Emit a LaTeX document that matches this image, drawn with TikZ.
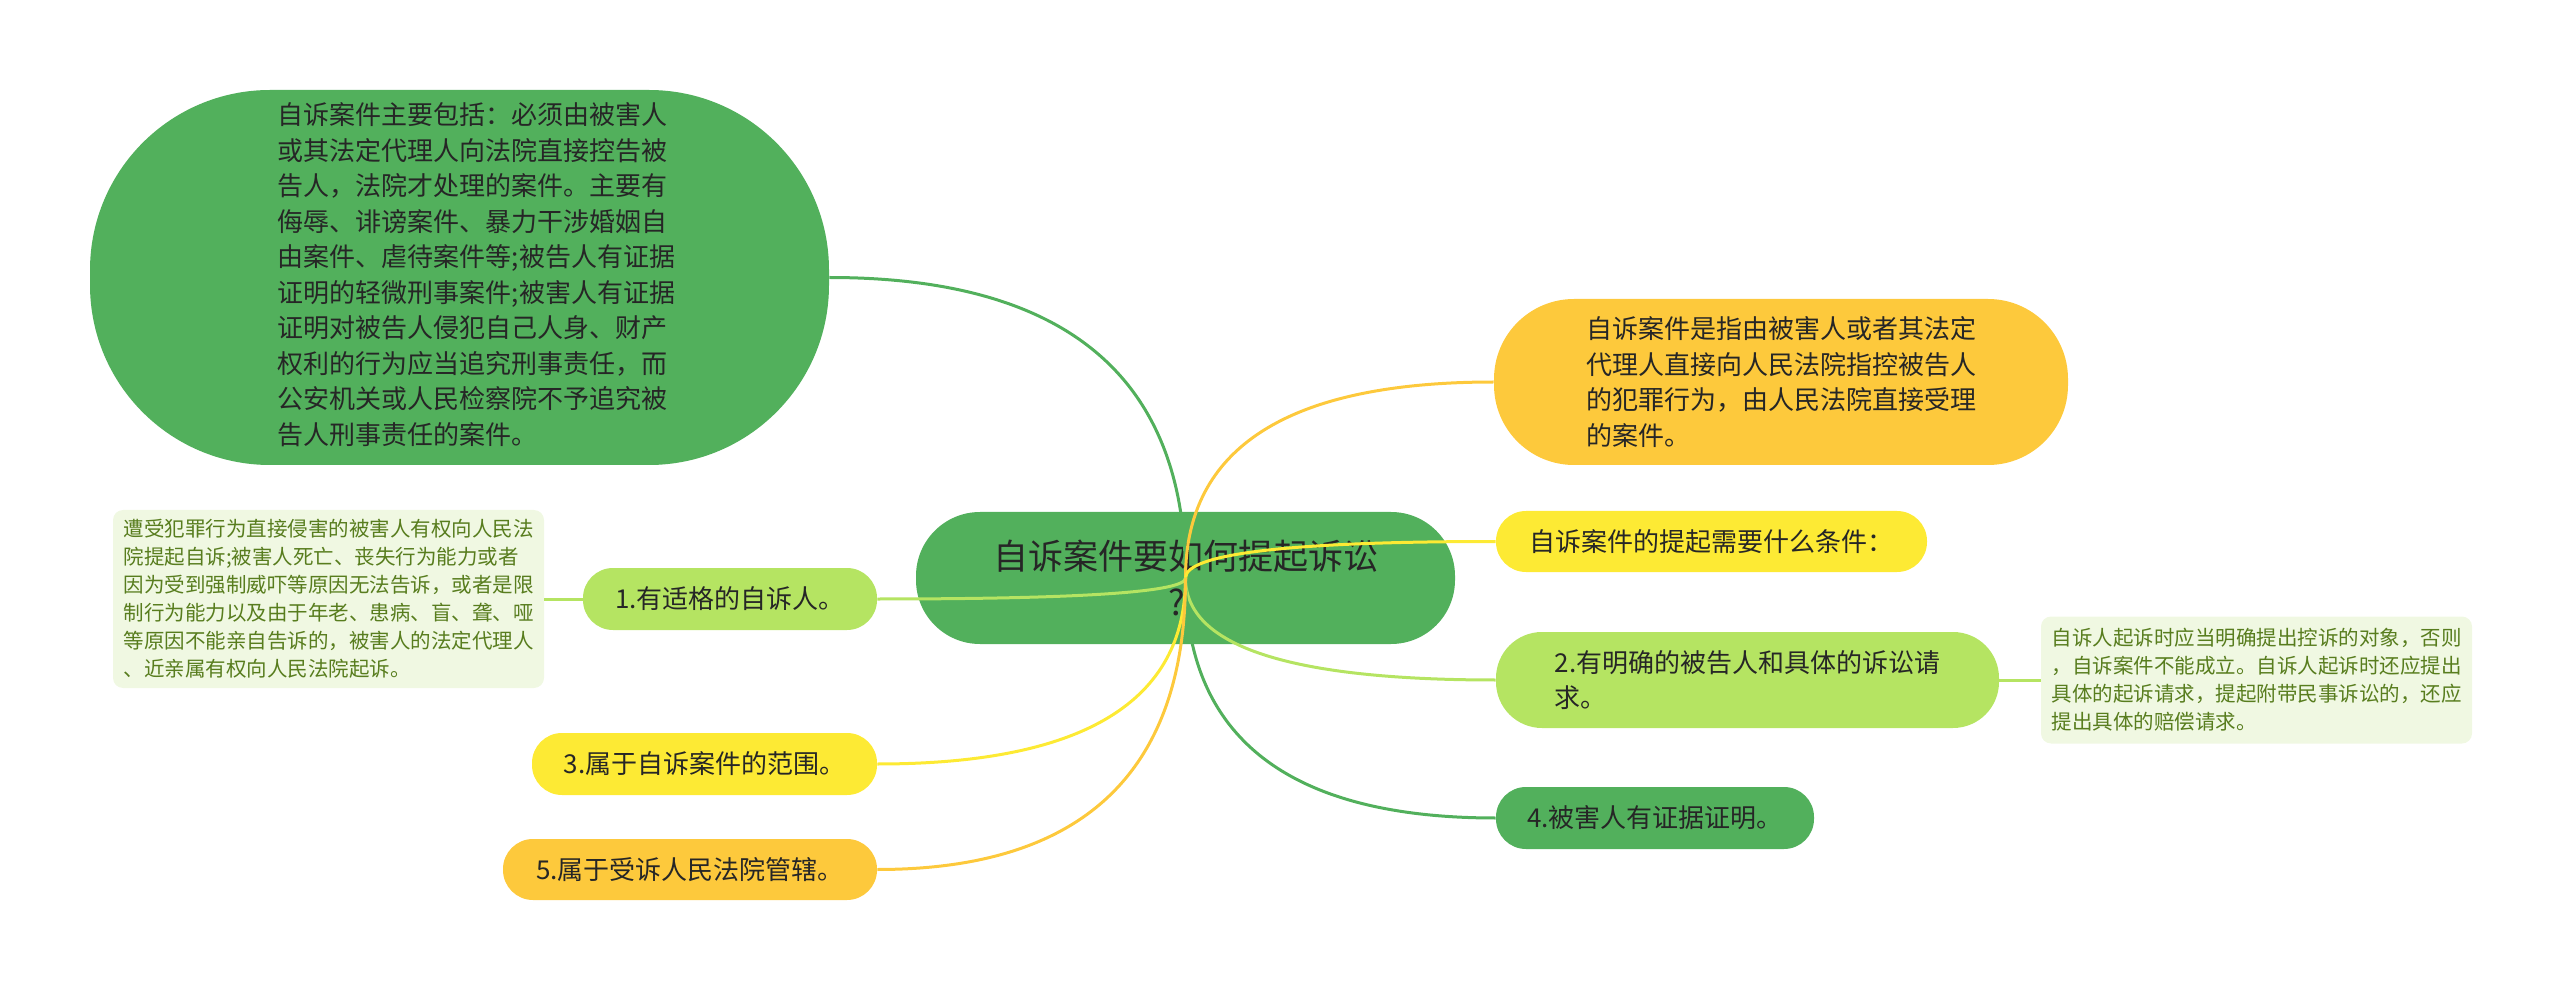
\documentclass[tikz,border=0pt]{standalone}
\usepackage{fontspec}
\setmainfont{Noto Sans CJK SC}
\usetikzlibrary{calc}
\definecolor{mgreen}{RGB}{82,176,92}
\definecolor{morange}{RGB}{253,201,60}
\definecolor{myellow}{RGB}{253,234,52}
\definecolor{mlight}{RGB}{181,228,98}
\definecolor{notebg}{RGB}{240,248,226}
\definecolor{notefg}{RGB}{88,125,30}
\definecolor{ink}{RGB}{38,38,38}
\tikzset{pill/.style={inner sep=0pt,text=ink,font=\fontsize{13pt}{17.75pt}\selectfont},
  note/.style={pill,fill=notebg,text=notefg,rounded corners=5pt,align=left,font=\fontsize{10.25pt}{14pt}\selectfont},
  link/.style={line width=1.5pt}}

\begin{document}
\begin{tikzpicture}[x=0.5pt,y=-0.5pt]
\useasboundingbox (0,0) rectangle (2560,989);
% topic and branches
\node[pill,fill=mgreen,minimum width=269.5pt,minimum height=66pt,rounded corners=32pt,align=center,font=\fontsize{17.5pt}{23pt}\selectfont] (ctr) at (1185.5,578) {自诉案件要如何提起诉讼\\?\kern9pt};
\node[pill,fill=mgreen,minimum width=369.5pt,minimum height=187.5pt,rounded corners=90pt] (big) at (459.5,277.5) {\hspace*{17pt}\begin{tabular}{@{}l@{}}自诉案件主要包括：必须由被害人\\或其法定代理人向法院直接控告被\\告人，法院才处理的案件。主要有\\侮辱、诽谤案件、暴力干涉婚姻自\\由案件、虐待案件等;被告人有证据\\证明的轻微刑事案件;被害人有证据\\证明对被告人侵犯自己人身、财产\\权利的行为应当追究刑事责任，而\\公安机关或人民检察院不予追究被\\告人刑事责任的案件。\end{tabular}};
\node[pill,fill=morange,minimum width=287pt,minimum height=83pt,rounded corners=40pt,align=left] (def) at (1781,382) {自诉案件是指由被害人或者其法定\\代理人直接向人民法院指控被告人\\的犯罪行为，由人民法院直接受理\\的案件。};
\node[pill,fill=myellow,minimum width=215.5pt,minimum height=30.5pt,rounded corners=15pt] (cond) at (1711.5,541.5) {自诉案件的提起需要什么条件：};
\node[pill,fill=mlight,minimum width=251.5pt,minimum height=48pt,rounded corners=23pt,align=left] (n2) at (1747.5,680) {2.有明确的被告人和具体的诉讼请\\求。};
\node[pill,fill=mgreen,minimum width=159pt,minimum height=31pt,rounded corners=15pt] (n4) at (1655,818) {4.被害人有证据证明。};
\node[pill,fill=mlight,minimum width=147pt,minimum height=31pt,rounded corners=15pt] (n1) at (730,599) {1.有适格的自诉人。};
\node[pill,fill=myellow,minimum width=172.5pt,minimum height=31pt,rounded corners=15pt] (n3) at (704.5,764) {3.属于自诉案件的范围。};
\node[pill,fill=morange,minimum width=187pt,minimum height=30.5pt,rounded corners=15pt] (n5) at (690,869.5) {5.属于受诉人民法院管辖。};
% notes
\node[note,minimum width=215.5pt,minimum height=89pt] (d1) at (328.5,599) {遭受犯罪行为直接侵害的被害人有权向人民法\\院提起自诉;被害人死亡、丧失行为能力或者\\因为受到强制威吓等原因无法告诉，或者是限\\制行为能力以及由于年老、患病、盲、聋、哑\\等原因不能亲自告诉的，被害人的法定代理人\\、近亲属有权向人民法院起诉。};
\node[note,minimum width=215.5pt,minimum height=63.5pt] (d2) at (2256.5,680) {自诉人起诉时应当明确提出控诉的对象，否则\\，自诉案件不能成立。自诉人起诉时还应提出\\具体的起诉请求，提起附带民事诉讼的，还应\\提出具体的赔偿请求。};
% connectors
\foreach \n/\a/\c in {big/east/mgreen,def/west/morange,cond/west/myellow,n2/west/mlight,n4/west/mgreen,n1/east/mlight,n3/east/myellow,n5/east/morange}{
  \coordinate (k) at (ctr.center |- \n.\a);
  \draw[link,\c] (ctr.center) .. controls ($(ctr.center)!2/3!(k)$) and ($(\n.\a)!2/3!(k)$) .. (\n.\a);
}
\draw[link,mlight] (n1.west) -- (d1.east);
\draw[link,mlight] (n2.east) -- (d2.west);
\end{tikzpicture}
\end{document}
